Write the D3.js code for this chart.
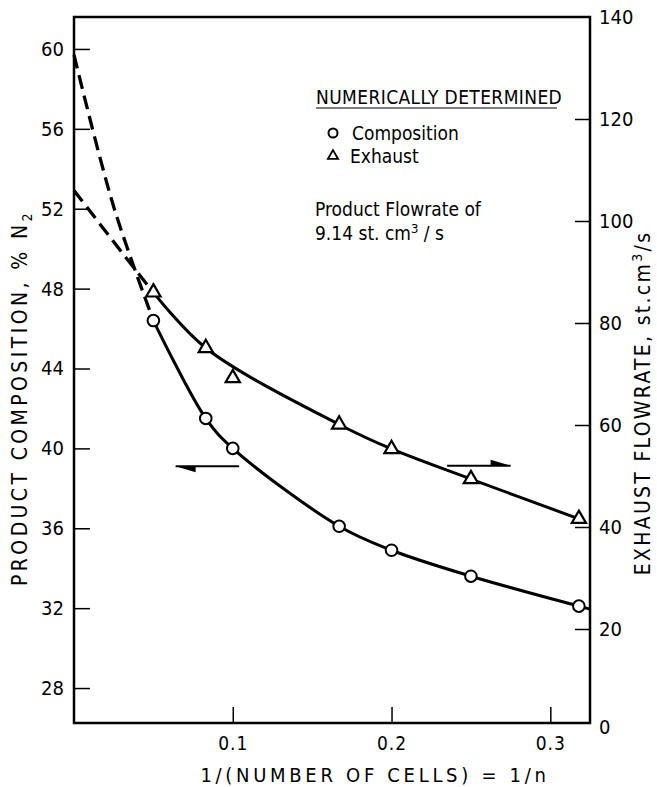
<!DOCTYPE html>
<html>
<head>
<meta charset="utf-8">
<script src="https://cdn.jsdelivr.net/npm/d3@7"></script>
<style>
  body { margin: 0; background: #fff; }
  svg { display: block; }
  text { font-family: "Liberation Sans Narrow", "DejaVu Sans Condensed", "Arial Narrow", sans-serif; fill: #000; }
</style>
</head>
<body>
<svg id="chart" width="657" height="787"></svg>
<script>
// axis ticks
const xTicks = [0.1, 0.2, 0.3]
const leftTicks = [28, 32, 36, 40, 44, 48, 52, 56, 60]
const rightTicks = [0, 20, 40, 60, 80, 100, 120, 140]

// numerically determined points, x = 1/n
const compX = [0.05, 0.083, 0.1, 0.167, 0.2, 0.25, 0.318]
const compY = [46.4, 41.5, 40.0, 36.1, 34.9, 33.6, 32.1]
const exhX = [0.05, 0.083, 0.1, 0.167, 0.2, 0.25, 0.318]
const exhY = [86.0, 75.1, 69.2, 60.1, 55.3, 49.4, 41.6]
const exhOffCurve = [0.1]   // plotted but not on the faired curve

// faired curve continuation to the frame and dashed extrapolation to 1/n = 0
const compEndX = [0.325]
const compEndY = [31.95]
const compExtrapX = [0, 0.025, 0.05]
const compExtrapY = [59.7, 52.1, 46.4]
const exhExtrapX = [0, 0.033, 0.05]
const exhExtrapY = [106, 92.7, 86.0]

// direction arrows: [x0, x1, y]
const compArrow = [0.104, 0.064, 39.1]
const exhArrow = [0.235, 0.275, 52]

const mLeft = 74, mTop = 17, mRight = 590, mBottom = 723

const svg = d3.select('#chart')

const x = d3.scaleLinear().domain([0, 0.325]).range([mLeft, mRight])
const yL = d3.scaleLinear().domain([26.25, 61.6]).range([mBottom, mTop])
// right scale of the original sits slightly below the frame bottom at 0
const yR = d3.scaleLinear().domain([0, 140]).range([mBottom + 8, mTop])

const zip = (xs, ys) => xs.map((d, i) => [d, ys[i]])

// axes (ticks drawn inward)
let gL = svg.append('g')
    .attr('transform', `translate(${mLeft},0)`)
    .call(d3.axisLeft(yL).tickValues(leftTicks).tickSize(-16).tickPadding(10).tickFormat(d3.format('d')))
let gR = svg.append('g')
    .attr('transform', `translate(${mRight},0)`)
    .call(d3.axisRight(yR).tickValues(rightTicks).tickSize(-15).tickPadding(9).tickFormat(d3.format('d')))
let gB = svg.append('g')
    .attr('transform', `translate(0,${mBottom})`)
    .call(d3.axisBottom(x).tickValues(xTicks).tickSize(-16).tickPadding(14).tickFormat(d3.format('.1f')))

svg.selectAll('.domain').remove()
svg.selectAll('.tick line').attr('stroke', '#000').attr('stroke-width', 1.5)
svg.selectAll('.tick text').attr('font-size', 20)
gB.selectAll('.tick text').attr('font-size', 19).attr('letter-spacing', 1)
// no tick marks in the corners
gR.selectAll('.tick line').filter(d => d === 0 || d === 140).remove()
gR.selectAll('.tick text').filter(d => d === 0).attr('dy', '0.1em')

// frame
svg.append('rect')
    .attr('x', mLeft).attr('y', mTop)
    .attr('width', mRight - mLeft).attr('height', mBottom - mTop)
    .attr('fill', 'none').attr('stroke', '#000').attr('stroke-width', 2.5)

// axis titles
svg.append('text')
    .attr('transform', `translate(27,398) rotate(-90)`)
    .attr('text-anchor', 'middle').attr('font-size', 21).attr('letter-spacing', 3.4)
    .text('PRODUCT COMPOSITION, % N')
    .append('tspan').attr('font-size', 14).attr('dy', 5).text('2')

let rt = svg.append('text')
    .attr('transform', `translate(650,403) rotate(-90)`)
    .attr('text-anchor', 'middle').attr('font-size', 21).attr('letter-spacing', 2.3)
rt.append('tspan').text('EXHAUST FLOWRATE, st.cm')
rt.append('tspan').attr('font-size', 14).attr('dy', -8).text('3')
rt.append('tspan').attr('dy', 8).text('/s')

svg.append('text')
    .attr('x', 375).attr('y', 782)
    .attr('text-anchor', 'middle').attr('font-size', 20).attr('letter-spacing', 3.7)
    .text('1/(NUMBER OF CELLS) = 1/n')

// curves
const lineL = d3.line().x(d => x(d[0])).y(d => yL(d[1])).curve(d3.curveCatmullRom.alpha(0.5))
const lineR = d3.line().x(d => x(d[0])).y(d => yR(d[1])).curve(d3.curveCatmullRom.alpha(0.5))

svg.append('path')
    .attr('d', lineL(zip(compX, compY).concat(zip(compEndX, compEndY))))
    .attr('fill', 'none').attr('stroke', '#000').attr('stroke-width', 3)
svg.append('path')
    .attr('d', lineR(zip(exhX, exhY).filter(d => !exhOffCurve.includes(d[0]))))
    .attr('fill', 'none').attr('stroke', '#000').attr('stroke-width', 3)
svg.append('path')
    .attr('d', lineL(zip(compExtrapX, compExtrapY)))
    .attr('fill', 'none').attr('stroke', '#000').attr('stroke-width', 3.3).attr('stroke-dasharray', '14,7')
svg.append('path')
    .attr('d', lineR(zip(exhExtrapX, exhExtrapY)))
    .attr('fill', 'none').attr('stroke', '#000').attr('stroke-width', 3.3).attr('stroke-dasharray', '14,7')

// markers
svg.append('g').selectAll('circle')
  .data(zip(compX, compY))
  .join('circle')
    .attr('cx', d => x(d[0])).attr('cy', d => yL(d[1])).attr('r', 5.8)
    .attr('fill', '#fff').attr('stroke', '#000').attr('stroke-width', 2)

const tri = d3.symbol().type(d3.symbolTriangle).size(88)
svg.append('g').selectAll('path')
  .data(zip(exhX, exhY))
  .join('path')
    .attr('d', tri)
    .attr('transform', d => `translate(${x(d[0])},${yR(d[1])})`)
    .attr('fill', '#fff').attr('stroke', '#000').attr('stroke-width', 2.2)

// arrows with half heads
function arrow(a, y, below) {
    const x0 = x(a[0]), x1 = x(a[1]), yy = y(a[2])
    const dir = Math.sign(x1 - x0)
    svg.append('line')
        .attr('x1', x0).attr('x2', x1).attr('y1', yy).attr('y2', yy)
        .attr('stroke', '#000').attr('stroke-width', 2)
    svg.append('path')
        .attr('d', `M${x1},${yy}L${x1 - dir * 20},${yy + (below ? 6 : -6)}L${x1 - dir * 20},${yy}Z`)
        .attr('fill', '#000')
}
arrow(compArrow, yL, true)
arrow(exhArrow, yR, false)

// legend / note
const lg = svg.append('g')
lg.append('text').attr('x', 316).attr('y', 104).attr('font-size', 19).attr('letter-spacing', 0.4)
    .text('NUMERICALLY DETERMINED')
lg.append('line').attr('x1', 316).attr('x2', 557).attr('y1', 108).attr('y2', 108)
    .attr('stroke', '#000').attr('stroke-width', 1.2)
lg.append('circle').attr('cx', 333).attr('cy', 133).attr('r', 4.5)
    .attr('fill', '#fff').attr('stroke', '#000').attr('stroke-width', 2)
lg.append('text').attr('x', 352).attr('y', 140).attr('font-size', 19).text('Composition')
lg.append('path').attr('d', d3.symbol().type(d3.symbolTriangle).size(45))
    .attr('transform', 'translate(333,156)')
    .attr('fill', '#fff').attr('stroke', '#000').attr('stroke-width', 1.8)
lg.append('text').attr('x', 350).attr('y', 163).attr('font-size', 19).text('Exhaust')
lg.append('text').attr('x', 315).attr('y', 216).attr('font-size', 19).text('Product Flowrate of')
let ft = lg.append('text').attr('x', 315).attr('y', 240).attr('font-size', 19)
ft.append('tspan').text('9.14 st. cm')
ft.append('tspan').attr('font-size', 13).attr('dy', -7).text('3')
ft.append('tspan').attr('dy', 7).text(' / s')
</script>
</body>
</html>
